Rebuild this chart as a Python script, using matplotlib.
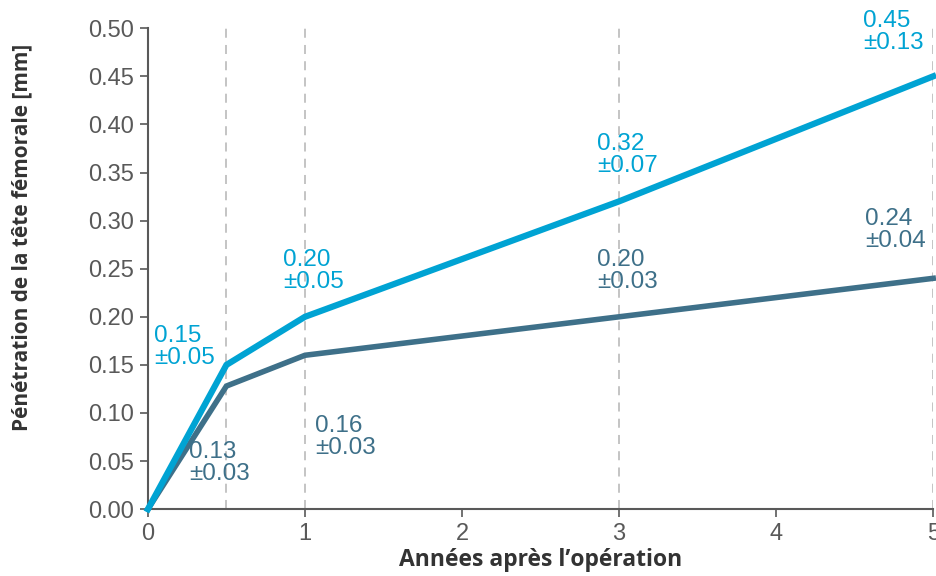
import matplotlib
matplotlib.use("Agg")
import matplotlib.pyplot as plt

years = [0, 0.5, 1, 3, 5]
blue_vals = [0.0, 0.15, 0.20, 0.32, 0.45]
blue_sd = [None, 0.05, 0.05, 0.07, 0.13]
dark_vals = [0.0, 0.128, 0.16, 0.20, 0.24]
dark_sd = [None, 0.03, 0.03, 0.03, 0.04]
grid_years = [0.5, 1, 3, 5]
yticks = [0.00, 0.05, 0.10, 0.15, 0.20, 0.25, 0.30, 0.35, 0.40, 0.45, 0.50]
xticks = [0, 1, 2, 3, 4, 5]

BLUE = "#00A3D3"
DARK = "#3E7089"
GRAY = "#595959"

fig = plt.figure(figsize=(9.36, 5.76), dpi=100)
ax = fig.add_axes([0.158, 0.116, 0.839, 0.835])

for g in grid_years:
    ax.axvline(g, color="#BFBFBF", lw=1.3, ls=(0, (5, 4)), zorder=1)

ax.plot(years, dark_vals, color=DARK, lw=4.0, solid_joinstyle="miter", zorder=3, clip_on=False)
ax.plot(years, blue_vals, color=BLUE, lw=4.5, solid_joinstyle="miter", zorder=4, clip_on=False)

font = dict(family=["Liberation Sans", "DejaVu Sans"], fontsize=17.5)

blue_off = [None, (-72, 18), (-22, 46), (-22, 46), (-70, 44)]
dark_off = [None, (-37, -77), (10, -82), (-22, 46), (-68, 48)]
for i in range(1, len(years)):
    ax.annotate(f"{blue_vals[i]:.2f}\n±{blue_sd[i]:.2f}", (years[i], blue_vals[i]),
                xytext=blue_off[i], textcoords="offset pixels", color=BLUE,
                ha="left", va="center", linespacing=1.0, annotation_clip=False, **font)
    ax.annotate(f"{dark_vals[i]:.2f}\n±{dark_sd[i]:.2f}", (years[i], dark_vals[i]),
                xytext=dark_off[i], textcoords="offset pixels", color=DARK,
                ha="left", va="center", linespacing=1.0, annotation_clip=False, **font)

ax.set_xlim(0, 5)
ax.set_ylim(0, 0.5)
ax.set_xticks(xticks)
ax.set_yticks(yticks)
ax.set_xticklabels([str(x) for x in xticks])
ax.set_yticklabels([f"{y:.2f}" for y in yticks])
for lab in ax.get_xticklabels() + ax.get_yticklabels():
    lab.set_fontfamily(["Liberation Sans", "DejaVu Sans"])
    lab.set_fontsize(17)
    lab.set_color(GRAY)
ax.tick_params(axis="both", direction="out", length=6, width=1.2, color=GRAY, pad=4)

for s in ["top", "right"]:
    ax.spines[s].set_visible(False)
for s in ["left", "bottom"]:
    ax.spines[s].set_color(GRAY)
    ax.spines[s].set_linewidth(1.5)

ax.set_xlabel("Années après l’opération", fontfamily=["Open Sans", "DejaVu Sans"],
              fontweight="bold", fontsize=16.5, color="#333333", labelpad=2)
ax.set_ylabel("Pénétration de la tête fémorale [mm]", fontfamily=["Open Sans", "DejaVu Sans"],
              fontweight="bold", fontsize=15, color="#333333")
ax.yaxis.set_label_coords(-0.147, 0.565)

fig.savefig("out.png", dpi=100)
